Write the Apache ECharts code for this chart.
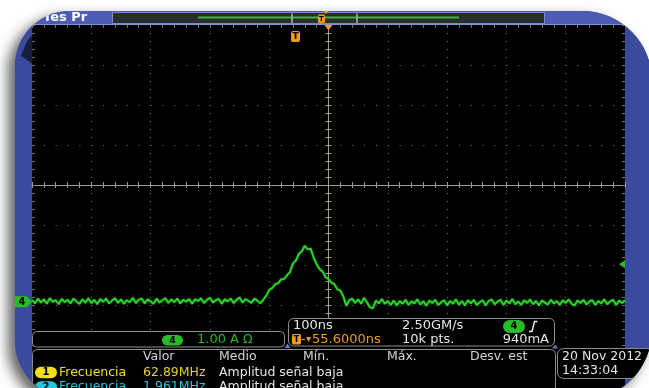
<!DOCTYPE html>
<html>
<head>
<meta charset="utf-8">
<script src="https://cdn.jsdelivr.net/npm/echarts@6/dist/echarts.min.js"></script>
<style>
html,body{margin:0;padding:0;background:#ffffff;overflow:hidden;width:649px;height:388px;}
#shadow{position:absolute;left:15px;top:11px;width:637px;height:389px;border-radius:55px 70px 70px 60px;background:#3b4a9c;box-shadow:-7px 6px 13px rgba(0,0,0,0.62);}
#chart{position:absolute;left:0;top:0;width:649px;height:388px;clip-path:path('M70,11 H582 A70,70 0 0 1 652,81 V330 A70,70 0 0 1 582,400 H75 A60,60 0 0 1 15,340 V66 A55,55 0 0 1 70,11 Z');}
</style>
</head>
<body>
<div id="shadow"></div>
<div id="chart"></div>
<script>
// ---------------- DATA ----------------
const timeStartNs = -500;
const timeStepNs = 5;
// channel 4 current (A), one sample every 5 ns from -500 ns to +500 ns
const currentA = [
 0.05,-0.04,0.08,-0.02,0.06,-0.05,0.09,0.00,0.04,-0.06,
 0.07,-0.01,0.05,-0.04,0.08,0.01,-0.05,0.06,-0.02,0.09,
 -0.03,0.05,-0.06,0.07,0.00,0.08,-0.04,0.03,0.09,-0.03,
 0.06,-0.05,0.04,-0.01,0.10,-0.03,0.05,0.08,-0.04,0.06,
 0.01,-0.05,0.08,-0.02,0.04,0.09,-0.03,0.06,-0.01,0.08,
 -0.04,0.05,0.00,0.07,-0.05,0.06,0.02,0.09,-0.03,0.05,
 0.10,-0.02,0.04,0.07,-0.05,0.06,0.01,0.08,-0.03,0.05,
 0.11,-0.02,0.07,0.02,-0.03,0.08,0.03,-0.04,0.05,
 0.15,0.30,0.34,0.44,0.46,0.56,0.57,0.66,0.74,0.96,
 1.03,1.20,1.26,1.40,1.31,1.33,1.10,0.94,0.82,0.76,
 0.62,0.57,0.48,0.44,0.31,0.28,0.14,
 -0.10,0.04,0.08,-0.03,0.06,-0.05,0.10,-0.02,-0.14,-0.16,
 0.03,-0.04,0.07,-0.05,0.02,
 -0.08,0.03,-0.09,0.02,-0.05,0.05,-0.08,0.01,-0.04,0.06,
 -0.07,0.02,-0.10,0.03,-0.03,0.05,-0.08,-0.01,0.04,-0.09,
 0.02,-0.05,0.06,-0.07,0.02,-0.09,0.04,-0.04,0.05,-0.08,
 -0.01,0.04,-0.09,0.02,0.06,-0.06,0.00,0.05,-0.08,0.03,
 -0.04,0.07,-0.06,0.01,-0.08,0.04,-0.03,0.06,-0.06,0.02,
 -0.09,0.03,-0.02,-0.07,0.05,-0.04,0.02,-0.08,0.04,-0.03,
 0.06,-0.05,-0.09,0.03,-0.03,0.05,-0.07,0.01,0.04,-0.08,
 0.02,-0.04,0.06,-0.06,0.01,0.05,-0.08,0.03,-0.03,0.04
];
const timeRangeNs = [-500, 500];
const nsPerDiv = 100;
const vertDivs = [-4, 4];
const ampsPerDiv = 1;
const groundOffsetDiv = -2.92;
const triggerTimeNs = -55.6;
const triggerLevelA = 0.94;

const topLabel = 'Tes Pr';
const chanReadout = ['4', '1.00 A', 'Ω'];
const horizReadout = ['100ns', '2.50GM/s', '55.6000ns', '10k pts.'];
const trigReadout = ['4', '940mA'];
const measHeader = ['Valor', 'Medio', 'Mín.', 'Máx.', 'Desv. est'];
const measRows = [
  {n: '1', name: 'Frecuencia', value: '62.89MHz', mean: 'Amplitud señal baja'},
  {n: '2', name: 'Frecuencia', value: '1.961MHz', mean: 'Amplitud señal baja'}
];
const dateLines = ['20 Nov 2012', '14:33:04'];

// ---------------- CHART ----------------
const chart = echarts.init(document.getElementById('chart'), null, {renderer: 'canvas'});
const GRID = {left: 32, right: 24, top: 25, bottom: 43, show: false, containLabel: false, outerBoundsMode: 'none'};
const GRAT = '#767676', CENTER = '#a39d85', GREEN = '#2cd42c';
const off = {show: false};
const baseX = {type: 'value', min: timeRangeNs[0], max: timeRangeNs[1], interval: nsPerDiv, axisLabel: off, splitLine: off, z: 5};
const baseY = {type: 'value', min: vertDivs[0], max: vertDivs[1], interval: 1, axisLabel: off, splitLine: off, z: 5};
const edgeTick = {show: true, inside: true, length: 3, lineStyle: {color: GRAT}};
const edgeMinor = {show: true, splitNumber: 5, length: 3, lineStyle: {color: GRAT}};
const cLine = {show: true, onZero: true, lineStyle: {color: CENTER, width: 1}};
const cTickIn = {show: true, inside: true, length: 3, lineStyle: {color: CENTER}};
const cTickOut = {show: true, inside: false, length: 3, lineStyle: {color: CENTER}};
const cMinor = {show: true, splitNumber: 5, length: 3, lineStyle: {color: CENTER}};
const hStep = 593 / 50;

const samples = currentA.map((v, i) => [timeStartNs + i * timeStepNs, v]);

chart.setOption({
  backgroundColor: '#3b4a9c',
  animation: false,
  grid: [GRID, GRID, GRID, GRID].map(g => Object.assign({}, g)),
  xAxis: [
    Object.assign({}, baseX, {gridIndex: 0, position: 'top', axisLine: {show: false, onZero: false}, axisTick: edgeTick, minorTick: edgeMinor,
      splitLine: {show: true, showMinLine: false, showMaxLine: false, lineStyle: {color: GRAT, width: 1, type: [1, 7]}}}),
    Object.assign({}, baseX, {gridIndex: 1, position: 'bottom', axisLine: cLine, axisTick: cTickIn, minorTick: cMinor}),
    Object.assign({}, baseX, {gridIndex: 2, position: 'bottom', axisLine: cLine, axisTick: cTickOut, minorTick: cMinor}),
    Object.assign({}, baseX, {gridIndex: 3, show: false, axisLine: {show: false, onZero: false}})
  ],
  yAxis: [
    Object.assign({}, baseY, {gridIndex: 0, position: 'left', axisLine: {show: false, onZero: false}, axisTick: edgeTick, minorTick: edgeMinor,
      splitLine: {show: true, showMinLine: false, showMaxLine: false, lineStyle: {color: GRAT, width: 1, type: [1, hStep - 1]}}}),
    Object.assign({}, baseY, {gridIndex: 0, position: 'right', axisLine: {show: false, onZero: false}, axisTick: edgeTick, minorTick: edgeMinor}),
    Object.assign({}, baseY, {gridIndex: 1, position: 'left', axisLine: cLine, axisTick: cTickIn, minorTick: cMinor}),
    Object.assign({}, baseY, {gridIndex: 2, position: 'left', axisLine: cLine, axisTick: cTickOut, minorTick: cMinor}),
    {type: 'value', gridIndex: 3, show: false, axisLine: {show: false, onZero: false},
      min: (vertDivs[0] - groundOffsetDiv) * ampsPerDiv, max: (vertDivs[1] - groundOffsetDiv) * ampsPerDiv}
  ],
  series: [{
    type: 'line', xAxisIndex: 3, yAxisIndex: 4, data: samples, symbol: 'none', showSymbol: false,
    lineStyle: {color: GREEN, width: 1.9, shadowColor: 'rgba(40,200,40,0.6)', shadowBlur: 2}, z: 8, clip: true
  }]
});

// ---------------- OVERLAYS ----------------
const FONT = '"DejaVu Sans", "Noto Sans", sans-serif';
function R(x, y, w, h, fill, o) {
  o = o || {};
  return {type: 'rect', silent: true, z: o.z == null ? 20 : o.z,
    shape: {x: x, y: y, width: w, height: h, r: o.r || 0},
    style: {fill: fill, stroke: o.stroke || null, lineWidth: o.lw || 1}};
}
function T(str, x, y, color, size, o) {
  o = o || {};
  return {type: 'text', silent: true, z: o.z == null ? 22 : o.z,
    style: {text: str, x: x, y: y, fill: color, font: (o.bold ? 'bold ' : '') + size + 'px ' + FONT,
      textAlign: o.align || 'left', textVerticalAlign: 'middle'}};
}
function L(x1, y1, x2, y2, color, w, z) {
  return {type: 'line', silent: true, z: z == null ? 21 : z, shape: {x1: x1, y1: y1, x2: x2, y2: y2}, style: {stroke: color, lineWidth: w || 1}};
}
function P(points, fill, z) {
  return {type: 'polygon', silent: true, z: z == null ? 21 : z, shape: {points: points}, style: {fill: fill}};
}

const px = (t, a) => chart.convertToPixel({gridIndex: 3}, [t, a]);
const zeroY = px(0, 0)[1];
const trigY = px(0, triggerLevelA)[1];
const trigX = px(triggerTimeNs, 0)[0];
const centerX = px(0, 0)[0];

const W = '#e6e6e6', ORANGE = '#ee9a1a', PILL = '#27bd27', YEL = '#f0e01c', CYAN = '#22c8dc', BORDER = '#8c8c8c';
const g = [];
// screen & top bar
g.push(R(32, 24, 593, 364, '#000', {z: 0}));
g.push(P([[33, 64], [33, 25], [62, 25], [46, 27], [35, 32], [27, 41], [21, 56]], 'rgba(0,0,0,0.6)', 0));
g.push(R(15, 11, 637, 13.5, '#4b5cb2', {z: 1}));
g.push(R(112.5, 12.5, 432, 11, '#2a2e2b', {z: 2, stroke: '#7a8bcc'}));
g.push(L(32, 24.5, 625, 24.5, '#8292d2', 1, 3));
g.push(R(198, 16.5, 261, 2, '#3fae3f', {z: 4}));
g.push(L(292, 13.5, 292, 23, '#b0b0b0', 1.5, 4));
g.push(L(357, 13.5, 357, 23, '#b0b0b0', 1.5, 4));
g.push(R(318, 14.5, 7, 8.5, ORANGE, {z: 5, r: 1.5}));
g.push(T('T', 321.5, 19, '#000', 7, {bold: true, align: 'center', z: 6}));
g.push(P([[323.5, 11], [328.5, 11], [326, 14]], ORANGE, 5));
g.push(T(topLabel, 43, 18, '#ffffff', 13, {bold: true, z: 3}));
// screen markers
g.push(R(trigX - 4.5, 31, 9, 11, ORANGE, {r: 2}));
g.push(T('T', trigX, 36.5, '#000', 9, {bold: true, align: 'center'}));
g.push(P([[centerX - 4, 25], [centerX + 4, 25], [centerX, 30.5]], ORANGE));
g.push(P([[14, zeroY - 5.5], [27, zeroY - 5.5], [32, zeroY], [27, zeroY + 5.5], [14, zeroY + 5.5]], PILL));
g.push(T('4', 22, zeroY + 0.5, '#000', 10, {bold: true, align: 'center'}));
g.push(P([[625, trigY - 4], [619, trigY], [625, trigY + 4]], PILL));
// channel box
g.push(R(32.5, 331.5, 252, 15.5, '#000', {stroke: BORDER, r: 4}));
g.push(R(162, 335, 21, 10.5, PILL, {r: 5.25, z: 21}));
g.push(T(chanReadout[0], 172.5, 340.5, '#000', 9.5, {bold: true, align: 'center'}));
g.push(T(chanReadout[1], 197, 340, '#22b822', 13));
g.push(T(chanReadout[2], 243, 340, '#22b822', 12.5));
// horizontal / trigger box
g.push(R(288.5, 318.5, 266, 27.5, '#000', {stroke: BORDER, r: 5}));
g.push(T(horizReadout[0], 293, 326, W, 13));
g.push(T(horizReadout[1], 402, 326, W, 13));
g.push(R(503, 320, 22, 13, PILL, {r: 6.5, z: 21}));
g.push(T(trigReadout[0], 514, 326.5, '#000', 10, {bold: true, align: 'center'}));
g.push({type: 'polyline', silent: true, z: 22, shape: {points: [[529, 331.5], [532, 331.5], [534.5, 321.5], [537.5, 321.5]]}, style: {stroke: W, lineWidth: 1.5, fill: null}});
g.push(R(292, 334, 9, 10.5, ORANGE, {r: 1.5, z: 21}));
g.push(T('T', 296.5, 339.5, '#000', 8, {bold: true, align: 'center'}));
g.push(L(301.5, 339.5, 305, 339.5, ORANGE, 1.2));
g.push(P([[306, 337], [311, 337], [308.5, 342]], ORANGE, 22));
g.push(T(horizReadout[2], 312, 339.5, ORANGE, 13));
g.push(T(horizReadout[3], 402, 339.5, W, 13));
g.push(T(trigReadout[1], 549, 339.5, W, 13, {align: 'right'}));
// small notches
g.push(P([[284.5, 348], [287.5, 343.5], [290.5, 348]], '#6577c0', 23));
g.push(P([[552, 348.5], [555, 344.5], [558, 348.5]], '#6577c0', 23));
// measurement panel
g.push(R(32.5, 349.5, 523, 50, '#000', {stroke: BORDER, r: [5, 5, 0, 0]}));
const headerX = [143, 219, 303, 387, 470];
measHeader.forEach((h, i) => g.push(T(h, headerX[i], 357, '#d4d4d4', 12.5)));
const rowColors = [[YEL, '#e2d21e'], [CYAN, CYAN]];
measRows.forEach((r, i) => {
  const y = 372.5 + i * 14.5;
  g.push(R(35, y - 5.75, 22, 11.5, rowColors[i][0], {r: 5.75, z: 21}));
  g.push(T(r.n, 46, y + 0.3, '#000', 10, {bold: true, align: 'center'}));
  g.push(T(r.name, 59, y, rowColors[i][0], 12.5));
  g.push(T(r.value, 143, y, rowColors[i][1], 12.5));
  g.push(T(r.mean, 219, y, W, 12.5));
});
// date box
g.push(R(557.5, 348.5, 95, 30, '#000', {stroke: BORDER, r: 6}));
g.push(T(dateLines[0], 562, 356.5, W, 12.5));
g.push(T(dateLines[1], 562, 371, W, 12.5));

chart.setOption({graphic: {elements: g}});
</script>
</body>
</html>
